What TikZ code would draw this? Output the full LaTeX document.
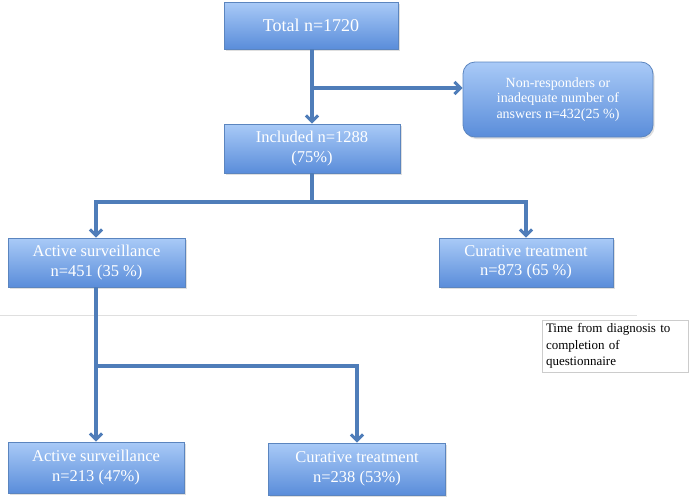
\documentclass[tikz,border=0pt]{standalone}
\usepackage{fontspec}
\setmainfont{Liberation Serif}
\usetikzlibrary{arrows.meta,shadows}
\definecolor{boxtop}{HTML}{A9CAF7}
\definecolor{boxbot}{HTML}{5A8DDA}
\definecolor{boxedge}{HTML}{5B85BF}
\definecolor{lineblue}{HTML}{4F7DB9}
\begin{document}
\begin{tikzpicture}[x=1pt,y=-1pt,
  bluebox/.style={draw=boxedge,line width=0.8pt,top color=boxtop,bottom color=boxbot,
    text=white,align=center,inner sep=2pt,font=\fontsize{16.5}{19.5}\selectfont,
    drop shadow={shadow xshift=1.5pt,shadow yshift=-2pt,opacity=0.25}},
  conn/.style={draw=lineblue,line width=3.2pt},
  arr/.style={conn,-{Straight Barb[length=6pt,width=12pt,line width=3pt]}},
]
\useasboundingbox (0,0) rectangle (689,501);
\draw[gray!25,line width=0.8pt] (0,315) -- (637,315);

\node[bluebox,minimum width=174pt,minimum height=47pt,font=\fontsize{18}{21}\selectfont] (total) at (311,25.5) {Total n=1720};
\node[bluebox,minimum width=176pt,minimum height=49pt] (incl) at (312,148.5) {Included n=1288\\(75\%)};
\node[bluebox,rounded corners=12pt,minimum width=190pt,minimum height=75pt,font=\fontsize{14}{15.5}\selectfont] (nonr) at (558,99.5) {Non-responders or\\inadequate number of\\answers n=432(25 \%)};
\node[bluebox,minimum width=177pt,minimum height=49pt] (act1) at (96.5,262.5) {Active surveillance\\n=451 (35 \%)};
\node[bluebox,minimum width=174pt,minimum height=49pt] (cur1) at (526,262.5) {Curative treatment\\n=873 (65 \%)};
\node[draw=gray!40,line width=0.8pt,fill=white,minimum width=146pt,minimum height=52pt,text width=138pt,align=left,inner sep=3pt,font=\fontsize{13}{16.5}\selectfont] (time) at (615,346) {Time from diagnosis to\\completion of\\questionnaire};
\node[bluebox,minimum width=176pt,minimum height=51pt] (act2) at (96,467.5) {Active surveillance\\n=213 (47\%)};
\node[bluebox,minimum width=177pt,minimum height=52pt] (cur2) at (357,469) {Curative treatment\\n=238 (53\%)};

\coordinate (j0) at (312,88);
\coordinate (j1) at (312,202);
\coordinate (j2) at (96,366);

\draw[arr] (total.south -| j0) -- (incl.north -| j0);
\draw[arr] (j0) -- (nonr.west |- j0);
\draw[conn] (incl.south -| j1) -- (j1);
\draw[arr] (j1) -| (act1.north -| j2);
\draw[arr] (j1) -| (cur1.north);
\draw[arr] (act1.south -| j2) -- (act2.north -| j2);
\draw[arr] (j2) -| (cur2.north);
\end{tikzpicture}
\end{document}
